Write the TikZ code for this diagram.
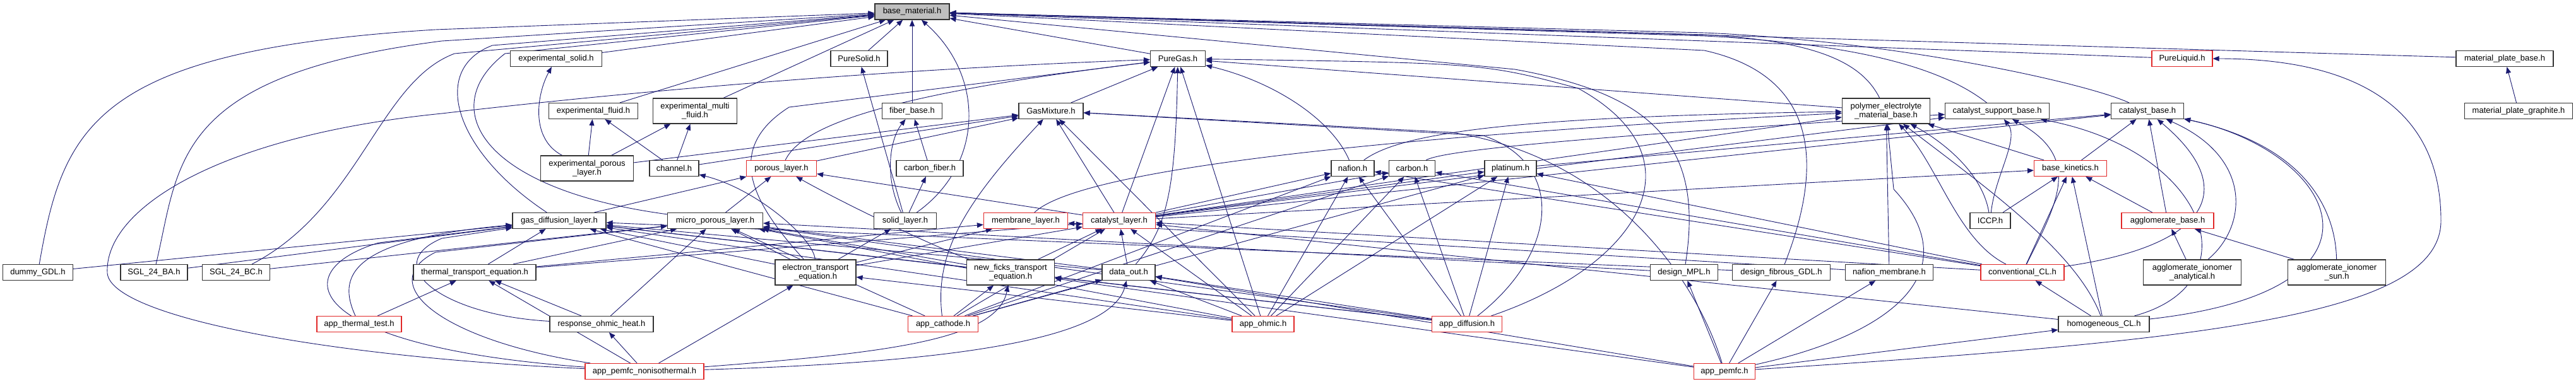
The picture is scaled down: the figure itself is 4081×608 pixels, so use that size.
\documentclass[tikz,border=0pt]{standalone}
\usepackage{fontspec}
\setmainfont{Liberation Sans}
\usetikzlibrary{arrows.meta}
\definecolor{edgec}{RGB}{25,25,112}
\definecolor{redb}{RGB}{225,40,40}
\definecolor{grayf}{RGB}{191,191,191}
\pgfdeclarelayer{paper}
\pgfdeclarelayer{wires}
\pgfsetlayers{paper,wires,main}
\begin{document}
\begin{tikzpicture}[x=1pt,y=-1pt,
  box/.style={draw=black!80, line width=1.2pt, fill=white, minimum height=25pt, inner sep=0pt, font=\fontsize{13}{14.5}\selectfont, align=center},
  rbox/.style={box, draw=redb},
  tall/.style={minimum height=40pt},
  edge/.style={draw=edgec, line width=0.9pt, -{Triangle[length=10pt,width=8pt]}}]
\begin{pgfonlayer}{paper}
\fill[white] (0,0) rectangle (4081,608);
\end{pgfonlayer}
\useasboundingbox (0,0) rectangle (4081,608);
% nodes
\node[box, fill=grayf, minimum width=118pt] (bm) at (1445,18.5) {base\_material.h};
\node[box, minimum width=145pt] (exsolid) at (881,93) {experimental\_solid.h};
\node[box, minimum width=90pt] (puresolid) at (1361,93) {PureSolid.h};
\node[box, minimum width=87pt] (puregas) at (1866,93) {PureGas.h};
\node[rbox, minimum width=96pt] (pureliquid) at (3457,93) {PureLiquid.h};
\node[box, minimum width=154pt] (mpbase) at (3968,93) {material\_plate\_base.h};
\node[box, minimum width=141pt] (exfluid) at (940,176) {experimental\_fluid.h};
\node[box, tall, minimum width=133pt] (exmulti) at (1101,176) {experimental\_multi\\\_fluid.h};
\node[box, minimum width=95pt] (fiber) at (1445,176) {fiber\_base.h};
\node[box, minimum width=102pt] (gasmix) at (1665,176) {GasMixture.h};
\node[box, tall, minimum width=139pt] (polymer) at (2988,176) {polymer\_electrolyte\\\_material\_base.h};
\node[box, minimum width=165pt] (catsupport) at (3164,176) {catalyst\_support\_base.h};
\node[box, minimum width=115pt] (catbase) at (3402,176) {catalyst\_base.h};
\node[box, minimum width=171pt] (mpgraphite) at (3990,176) {material\_plate\_graphite.h};
\node[box, tall, minimum width=147pt] (exporous) at (930,267) {experimental\_porous\\\_layer.h};
\node[box, minimum width=78pt] (channel) at (1068,267) {channel.h};
\node[rbox, minimum width=111pt] (porous) at (1238,267) {porous\_layer.h};
\node[box, minimum width=106pt] (carbonfiber) at (1473,267) {carbon\_fiber.h};
\node[box, minimum width=68pt] (nafion) at (2143,267) {nafion.h};
\node[box, minimum width=73pt] (carbon) at (2237,267) {carbon.h};
\node[box, minimum width=82pt] (platinum) at (2393,267) {platinum.h};
\node[rbox, minimum width=115pt] (kinetics) at (3280,267) {base\_kinetics.h};
\node[box, minimum width=148pt] (gdl) at (886,350) {gas\_diffusion\_layer.h};
\node[box, minimum width=151pt] (mpl) at (1133,350) {micro\_porous\_layer.h};
\node[box, minimum width=99pt] (solid) at (1434,350) {solid\_layer.h};
\node[rbox, minimum width=133pt] (membrane) at (1625,350) {membrane\_layer.h};
\node[rbox, minimum width=115pt] (cl) at (1773,350) {catalyst\_layer.h};
\node[box, minimum width=64pt] (iccp) at (3153,350) {ICCP.h};
\node[rbox, minimum width=146pt] (agglobase) at (3434,350) {agglomerate\_base.h};
\node[box, minimum width=111pt] (dummy) at (60,432) {dummy\_GDL.h};
\node[box, minimum width=106pt] (sglba) at (244,432) {SGL\_24\_BA.h};
\node[box, minimum width=107pt] (sglbc) at (374,432) {SGL\_24\_BC.h};
\node[box, minimum width=194pt] (thermal) at (752,432) {thermal\_transport\_equation.h};
\node[box, tall, minimum width=128pt] (electron) at (1292,432) {electron\_transport\\\_equation.h};
\node[box, tall, minimum width=139pt] (ficks) at (1601,432) {new\_ficks\_transport\\\_equation.h};
\node[box, minimum width=84pt] (dataout) at (1788,432) {data\_out.h};
\node[box, minimum width=107pt] (designmpl) at (2668,432) {design\_MPL.h};
\node[box, minimum width=155pt] (designgdl) at (2822,432) {design\_fibrous\_GDL.h};
\node[box, minimum width=139pt] (nafionmem) at (2993,432) {nafion\_membrane.h};
\node[rbox, minimum width=132pt] (conventional) at (3204,432) {conventional\_CL.h};
\node[box, tall, minimum width=155pt] (aggloan) at (3473,432) {agglomerate\_ionomer\\\_analytical.h};
\node[box, tall, minimum width=155pt] (agglosun) at (3702,432) {agglomerate\_ionomer\\\_sun.h};
\node[rbox, minimum width=134pt] (thermaltest) at (569,514) {app\_thermal\_test.h};
\node[box, minimum width=164pt] (ohmicheat) at (953,514) {response\_ohmic\_heat.h};
\node[rbox, minimum width=111pt] (cathode) at (1494,514) {app\_cathode.h};
\node[rbox, minimum width=98pt] (ohmic) at (2001,514) {app\_ohmic.h};
\node[rbox, minimum width=111pt] (diffusion) at (2324,514) {app\_diffusion.h};
\node[box, minimum width=144pt] (homogeneous) at (3333,514) {homogeneous\_CL.h};
\node[rbox, minimum width=188pt] (nonisothermal) at (1021,589) {app\_pemfc\_nonisothermal.h};
\node[rbox, minimum width=97pt] (pemfc) at (2732,589) {app\_pemfc.h};
\begin{pgfonlayer}{wires}
% edges to base_material
\draw[edge] (exsolid) -- (bm);
\draw[edge] (puresolid) -- (bm);
\draw[edge] (puregas) -- (bm);
\draw[edge] (pureliquid) -- (bm);
\draw[edge] (mpbase) -- (bm);
\draw[edge] (exfluid) -- (bm);
\draw[edge] (exmulti) -- (bm);
\draw[edge] (fiber) -- (bm);
\draw[edge] (polymer) .. controls (2950,100) and (2880,65) .. (2700,55) -- (bm);
\draw[edge] (catsupport) .. controls (3080,110) and (2950,70) .. (2700,57) -- (bm);
\draw[edge] (catbase) .. controls (3300,130) and (3000,65) .. (2700,52) -- (bm);
\draw[edge] (dummy) .. controls (100,200) and (150,80) .. (690,47) -- (bm);
\draw[edge] (sglba) .. controls (285,260) and (270,120) .. (700,65) -- (bm);
\draw[edge] (sglbc) .. controls (570,330) and (600,130) .. (720,85) -- (bm);
\draw[edge] (gdl) .. controls (720,240) and (680,110) .. (780,72) -- (bm);
\draw[edge] (mpl) .. controls (760,300) and (690,170) .. (800,85) -- (bm);
\draw[edge] (solid) .. controls (1560,260) and (1560,120) .. (bm);
\draw[edge] (designmpl) .. controls (2700,230) and (2620,150) .. (2400,110) -- (bm);
\draw[edge] (designgdl) .. controls (2890,260) and (2880,120) .. (2700,80) -- (bm);
% edges to PureGas
\draw[edge] (gasmix) -- (puregas);
\draw[edge] (polymer) -- (puregas);
\draw[edge] (porous) .. controls (1270,200) and (1400,150) .. (puregas);
\draw[edge] (nafion) .. controls (2110,190) and (2020,130) .. (puregas);
\draw[edge] (cl) -- (puregas);
\draw[edge] (dataout) .. controls (1850,360) and (1862,300) .. (puregas);
\draw[edge] (ohmic) -- (puregas);
\draw[edge] (diffusion) .. controls (2600,420) and (2700,250) .. (2500,140) .. controls (2350,100) .. (puregas);
\draw[edge] (nonisothermal) .. controls (500,565) and (175,500) .. (170,433) .. controls (165,330) and (350,215) .. (700,180) .. controls (1000,145) and (1400,110) .. (puregas);
\draw[edge] (electron) .. controls (1200,330) and (1140,240) .. (1250,170) -- (puregas);
\draw[edge] (mpgraphite) -- (mpbase);
% experimental / gas mixture
\draw[edge] (exporous) .. controls (840,220) and (850,150) .. (exsolid);
\draw[edge] (exporous) -- (exfluid);
\draw[edge] (exporous) -- (exmulti);
\draw[edge] (exporous) -- (gasmix);
\draw[edge] (channel) -- (exfluid);
\draw[edge] (channel) -- (exmulti);
\draw[edge] (channel) -- (gasmix);
\draw[edge] (electron) .. controls (1290,380) and (1200,300) .. (channel);
\draw[edge] (porous) -- (gasmix);
\draw[edge] (cl) -- (gasmix);
\draw[edge] (cathode) .. controls (1480,400) and (1530,320) .. (gasmix);
\draw[edge] (ohmic) -- (gasmix);
\draw[edge] (diffusion) .. controls (2470,400) and (2480,260) .. (2350,215) -- (gasmix);
\draw[edge] (pemfc) .. controls (2690,450) and (2560,250) .. (2300,210) -- (gasmix);
% fibers / solid
\draw[edge] (carbonfiber) -- (fiber);
\draw[edge] (solid) .. controls (1400,280) and (1410,220) .. (fiber);
\draw[edge] (solid) -- (puresolid);
\draw[edge] (solid) -- (carbonfiber);
% materials
\draw[edge] (nafion) .. controls (2220,210) and (2400,185) .. (polymer);
\draw[edge] (carbon) .. controls (2300,230) and (2800,200) .. (catsupport);
\draw[edge] (platinum) -- (catbase);
\draw[edge] (kinetics) -- (catbase);
\draw[edge] (kinetics) -- (polymer);
% layers
\draw[edge] (gdl) -- (porous);
\draw[edge] (mpl) -- (porous);
\draw[edge] (cl) -- (porous);
\draw[edge] (ficks) .. controls (1500,400) and (1350,330) .. (porous);
\draw[edge] (membrane) .. controls (1720,260) and (2300,210) .. (polymer);
\draw[edge] (cl) -- (polymer);
\draw[edge] (cl) -- (nafion);
\draw[edge] (cl) -- (carbon);
\draw[edge] (cl) -- (platinum);
\draw[edge] (cl) -- (catsupport);
\draw[edge] (cl) -- (catbase);
\draw[edge] (cl) -- (kinetics);
% kinetics family
\draw[edge] (iccp) -- (kinetics);
\draw[edge] (iccp) .. controls (3140,270) and (3070,220) .. (polymer);
\draw[edge] (iccp) .. controls (3160,280) and (3200,220) .. (catsupport);
\draw[edge] (agglobase) -- (kinetics);
\draw[edge] (agglobase) -- (catbase);
\draw[edge] (aggloan) -- (agglobase);
\draw[edge] (aggloan) .. controls (3560,360) and (3570,250) .. (catbase);
\draw[edge] (agglosun) .. controls (3700,330) and (3650,230) .. (catbase);
\draw[edge] (agglosun) -- (agglobase);
\draw[edge] (conventional) -- (cl);
\draw[edge] (conventional) -- (kinetics);
\draw[edge] (conventional) .. controls (3100,380) and (3070,260) .. (polymer);
\draw[edge] (conventional) .. controls (3260,320) and (3300,250) .. (catsupport);
\draw[edge] (conventional) .. controls (3500,390) and (3550,300) .. (catbase);
\draw[edge] (conventional) -- (nafion);
\draw[edge] (conventional) -- (carbon);
\draw[edge] (conventional) -- (platinum);
\draw[edge] (homogeneous) -- (conventional);
\draw[edge] (homogeneous) -- (kinetics);
\draw[edge] (homogeneous) .. controls (3290,400) and (3150,300) .. (polymer);
\draw[edge] (homogeneous) .. controls (3570,450) and (3500,240) .. (catsupport);
\draw[edge] (homogeneous) .. controls (3820,460) and (3700,240) .. (catbase);
\draw[edge] (homogeneous) -- (cl);
% designs
\draw[edge] (designmpl) -- (mpl);
\draw[edge] (designgdl) -- (gdl);
\draw[edge] (nafionmem) -- (membrane);
\draw[edge] (nafionmem) -- (polymer);
\draw[edge] (dummy) -- (gdl);
\draw[edge] (sglba) -- (gdl);
\draw[edge] (sglbc) -- (mpl);
% equations
\draw[edge] (thermal) -- (gdl);
\draw[edge] (thermal) -- (mpl);
\draw[edge] (thermal) -- (cl);
\draw[edge] (thermal) -- (membrane);
\draw[edge] (electron) -- (gdl);
\draw[edge] (electron) -- (mpl);
\draw[edge] (electron) -- (cl);
\draw[edge] (electron) -- (membrane);
\draw[edge] (electron) -- (solid);
\draw[edge] (ficks) -- (gdl);
\draw[edge] (ficks) -- (mpl);
\draw[edge] (ficks) -- (cl);
\draw[edge] (dataout) -- (cl);
\draw[edge] (dataout) -- (gdl);
\draw[edge] (dataout) -- (mpl);
% applications
\draw[edge] (thermaltest) .. controls (535,440) and (550,380) .. (gdl);
\draw[edge] (thermaltest) -- (thermal);
\draw[edge] (ohmicheat) -- (thermal);
\draw[edge] (ohmicheat) .. controls (700,500) and (600,420) .. (700,378) -- (gdl);
\draw[edge] (ohmicheat) -- (mpl);
\draw[edge] (nonisothermal) -- (ohmicheat);
\draw[edge] (nonisothermal) -- (thermal);
\draw[edge] (nonisothermal) -- (electron);
\draw[edge] (nonisothermal) .. controls (1400,560) and (1580,540) .. (ficks);
\draw[edge] (nonisothermal) .. controls (1500,575) and (1760,540) .. (dataout);
\draw[edge] (nonisothermal) .. controls (480,550) and (450,430) .. (600,385) -- (gdl);
\draw[edge] (nonisothermal) .. controls (700,540) and (590,450) .. (690,400) -- (mpl);
\draw[edge] (cathode) -- (gdl);
\draw[edge] (cathode) -- (mpl);
\draw[edge] (cathode) -- (cl);
\draw[edge] (cathode) -- (ficks);
\draw[edge] (cathode) -- (dataout);
\draw[edge] (cathode) -- (nafion);
\draw[edge] (cathode) -- (carbon);
\draw[edge] (cathode) -- (platinum);
\draw[edge] (ohmic) -- (electron);
\draw[edge] (ohmic) -- (dataout);
\draw[edge] (ohmic) -- (cl);
\draw[edge] (ohmic) -- (gdl);
\draw[edge] (ohmic) -- (mpl);
\draw[edge] (ohmic) -- (nafion);
\draw[edge] (ohmic) -- (carbon);
\draw[edge] (ohmic) -- (platinum);
\draw[edge] (diffusion) -- (ficks);
\draw[edge] (diffusion) -- (dataout);
\draw[edge] (diffusion) -- (gdl);
\draw[edge] (diffusion) -- (mpl);
\draw[edge] (diffusion) -- (nafion);
\draw[edge] (diffusion) -- (carbon);
\draw[edge] (diffusion) -- (platinum);
\draw[edge] (pemfc) -- (designgdl);
\draw[edge] (pemfc) -- (nafionmem);
\draw[edge] (pemfc) -- (homogeneous);
\draw[edge] (pemfc) .. controls (3500,540) and (3867,500) .. (3867,350) .. controls (3867,150) and (3700,93) .. (pureliquid);
\draw[edge] (pemfc) -- (designmpl);
\draw[edge] (pemfc) .. controls (3000,530) and (3120,430) .. (3000,300) -- (polymer);
\draw[edge] (pemfc) -- (ficks);
\draw[edge] (pemfc) -- (dataout);
\end{pgfonlayer}
\end{tikzpicture}
\end{document}
